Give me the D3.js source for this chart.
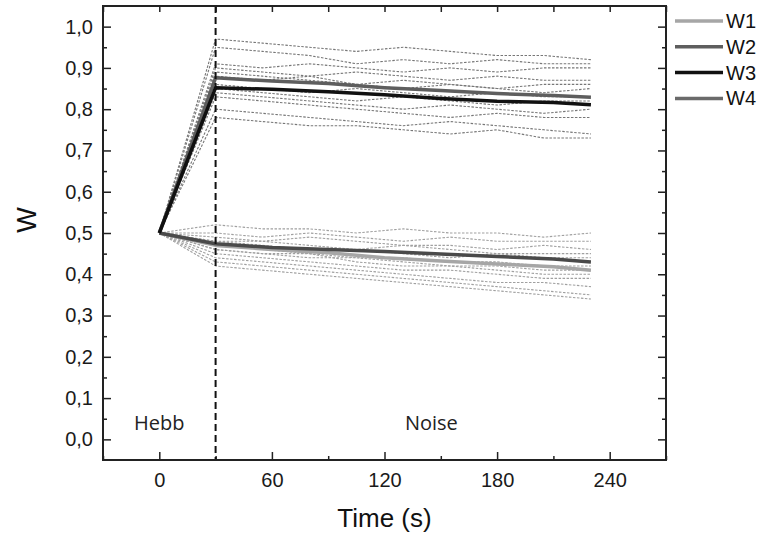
<!DOCTYPE html>
<html>
<head>
<meta charset="utf-8">
<script src="https://cdn.jsdelivr.net/npm/d3@7"></script>
<style>
  body { margin: 0; background: #fff; }
  svg { display: block; }
  .tick text { font-family: "Liberation Sans", Arial, sans-serif; font-size: 20px; fill: #1a1a1a; }
  .tick line { stroke: #222; stroke-width: 1.5; }
  .domain { display: none; }
</style>
</head>
<body>
<svg width="761" height="537"></svg>
<script>
const svg = d3.select("svg");

const width = 761;
const height = 537;

const margin = { top: 6, right: 95, bottom: 77, left: 103 };

// mean curves
const meanTimes = [0, 30, 60, 90, 120, 150, 180, 210, 230];
const w1 = [0.5, 0.470, 0.460, 0.452, 0.440, 0.432, 0.425, 0.418, 0.410];
const w2 = [0.5, 0.876, 0.868, 0.862, 0.852, 0.845, 0.838, 0.833, 0.829];
const w3 = [0.5, 0.852, 0.848, 0.842, 0.835, 0.826, 0.819, 0.816, 0.811];
const w4 = [0.5, 0.474, 0.465, 0.460, 0.455, 0.449, 0.443, 0.437, 0.430];

// single trials (dashed)
const trialTimes = [0, 30, 55, 80, 105, 130, 155, 180, 205, 230];
const trialsHigh = [
    [0.5, 0.97, 0.96, 0.95, 0.94, 0.95, 0.94, 0.93, 0.93, 0.92],
    [0.5, 0.95, 0.94, 0.93, 0.91, 0.92, 0.91, 0.92, 0.91, 0.91],
    [0.5, 0.91, 0.90, 0.91, 0.90, 0.89, 0.90, 0.89, 0.90, 0.90],
    [0.5, 0.90, 0.89, 0.88, 0.89, 0.88, 0.87, 0.88, 0.87, 0.87],
    [0.5, 0.89, 0.88, 0.87, 0.86, 0.87, 0.86, 0.85, 0.86, 0.86],
    [0.5, 0.88, 0.87, 0.88, 0.86, 0.85, 0.86, 0.85, 0.84, 0.85],
    [0.5, 0.86, 0.85, 0.84, 0.85, 0.84, 0.83, 0.84, 0.83, 0.83],
    [0.5, 0.85, 0.84, 0.83, 0.82, 0.83, 0.82, 0.81, 0.82, 0.82],
    [0.5, 0.84, 0.83, 0.82, 0.81, 0.80, 0.81, 0.80, 0.79, 0.80],
    [0.5, 0.83, 0.82, 0.81, 0.80, 0.79, 0.78, 0.79, 0.78, 0.78],
    [0.5, 0.80, 0.79, 0.78, 0.77, 0.76, 0.77, 0.76, 0.75, 0.74],
    [0.5, 0.78, 0.77, 0.76, 0.76, 0.75, 0.74, 0.75, 0.73, 0.73]
];
const trialsLow = [
    [0.5, 0.52, 0.51, 0.51, 0.50, 0.51, 0.50, 0.50, 0.49, 0.50],
    [0.5, 0.50, 0.49, 0.50, 0.49, 0.48, 0.49, 0.48, 0.48, 0.48],
    [0.5, 0.49, 0.48, 0.49, 0.48, 0.47, 0.47, 0.46, 0.47, 0.46],
    [0.5, 0.48, 0.48, 0.47, 0.46, 0.47, 0.46, 0.45, 0.45, 0.45],
    [0.5, 0.48, 0.47, 0.46, 0.46, 0.45, 0.44, 0.45, 0.44, 0.44],
    [0.5, 0.47, 0.46, 0.45, 0.44, 0.44, 0.43, 0.43, 0.42, 0.42],
    [0.5, 0.46, 0.45, 0.44, 0.44, 0.43, 0.42, 0.42, 0.41, 0.41],
    [0.5, 0.46, 0.45, 0.45, 0.43, 0.42, 0.42, 0.41, 0.40, 0.40],
    [0.5, 0.45, 0.44, 0.43, 0.42, 0.41, 0.41, 0.40, 0.39, 0.39],
    [0.5, 0.44, 0.43, 0.42, 0.41, 0.40, 0.39, 0.38, 0.38, 0.37],
    [0.5, 0.43, 0.42, 0.41, 0.40, 0.39, 0.38, 0.37, 0.36, 0.35],
    [0.5, 0.42, 0.41, 0.40, 0.39, 0.38, 0.37, 0.36, 0.35, 0.34]
];

const xTicks = [0, 60, 120, 180, 240];
const xMinor = [-30, 30, 90, 150, 210, 270];
const yTicks = [0, 0.1, 0.2, 0.3, 0.4, 0.5, 0.6, 0.7, 0.8, 0.9, 1.0];
const yMinor = [0.05, 0.15, 0.25, 0.35, 0.45, 0.55, 0.65, 0.75, 0.85, 0.95];

const seriesNames = ["W1", "W2", "W3", "W4"];
const seriesColors = ["#a6a6a6", "#5e5e5e", "#111111", "#6a6a6a"];

const xScale = d3.scaleLinear()
    .domain([-30, 270])
    .range([margin.left, width - margin.right]);

const yScale = d3.scaleLinear()
    .domain([-0.05, 1.05])
    .range([height - margin.bottom, margin.top]);

const x0 = margin.left, x1 = width - margin.right;
const y0 = margin.top, y1 = height - margin.bottom;

const comma = v => d3.format(".1f")(v).replace(".", ",");

// axes, ticks pointing inward on all sides
svg.append("g")
    .attr("transform", `translate(0, ${y1})`)
    .call(d3.axisBottom(xScale).tickValues(xTicks).tickSize(-8).tickPadding(13));
svg.append("g")
    .attr("transform", `translate(0, ${y1})`)
    .call(d3.axisBottom(xScale).tickValues(xMinor).tickSize(-4).tickFormat(""));
svg.append("g")
    .attr("transform", `translate(0, ${y0})`)
    .call(d3.axisTop(xScale).tickValues(xTicks.concat(xMinor)).tickSize(-6).tickFormat(""));

svg.append("g")
    .attr("transform", `translate(${x0}, 0)`)
    .call(d3.axisLeft(yScale).tickValues(yTicks).tickSize(-8).tickPadding(10).tickFormat(comma));
svg.append("g")
    .attr("transform", `translate(${x0}, 0)`)
    .call(d3.axisLeft(yScale).tickValues(yMinor).tickSize(-4).tickFormat(""));
svg.append("g")
    .attr("transform", `translate(${x1}, 0)`)
    .call(d3.axisRight(yScale).tickValues(yTicks).tickSize(-8).tickFormat(""));
svg.append("g")
    .attr("transform", `translate(${x1}, 0)`)
    .call(d3.axisRight(yScale).tickValues(yMinor).tickSize(-4).tickFormat(""));

// trials
const trialLine = d3.line()
    .x((d, i) => xScale(trialTimes[i]))
    .y(d => yScale(d));

svg.append("g")
    .selectAll("path")
    .data(trialsLow)
    .join("path")
    .attr("d", trialLine)
    .attr("fill", "none")
    .attr("stroke", "#a0a0a0")
    .attr("stroke-width", 1.1)
    .attr("stroke-dasharray", "2.5,1.5");

svg.append("g")
    .selectAll("path")
    .data(trialsHigh)
    .join("path")
    .attr("d", trialLine)
    .attr("fill", "none")
    .attr("stroke", "#777")
    .attr("stroke-width", 1.1)
    .attr("stroke-dasharray", "2.5,1.5");

// mean lines
const meanLine = d3.line()
    .x((d, i) => xScale(meanTimes[i]))
    .y(d => yScale(d));

const means = [
    { name: "W1", values: w1, color: seriesColors[0] },
    { name: "W4", values: w4, color: "#4a4a4a" },
    { name: "W2", values: w2, color: seriesColors[1] },
    { name: "W3", values: w3, color: seriesColors[2] }
];

svg.append("g")
    .selectAll("path")
    .data(means)
    .join("path")
    .attr("d", d => meanLine(d.values))
    .attr("fill", "none")
    .attr("stroke", d => d.color)
    .attr("stroke-width", 3.5)
    .attr("stroke-linejoin", "round");

// Hebb / Noise boundary
svg.append("line")
    .attr("x1", xScale(30))
    .attr("x2", xScale(30))
    .attr("y1", y0)
    .attr("y2", y1)
    .attr("stroke", "#111")
    .attr("stroke-width", 2)
    .attr("stroke-dasharray", "7,4");

// frame
svg.append("rect")
    .attr("x", x0)
    .attr("y", y0)
    .attr("width", x1 - x0)
    .attr("height", y1 - y0)
    .attr("fill", "none")
    .attr("stroke", "#222")
    .attr("stroke-width", 2);

svg.append("text")
    .attr("x", xScale(0))
    .attr("y", 430)
    .attr("text-anchor", "middle")
    .style("font-family", "'Open Sans', sans-serif")
    .style("font-size", "20px")
    .attr("fill", "#222")
    .text("Hebb");

svg.append("text")
    .attr("x", xScale(145))
    .attr("y", 430)
    .attr("text-anchor", "middle")
    .style("font-family", "'Open Sans', sans-serif")
    .style("font-size", "20px")
    .attr("fill", "#222")
    .text("Noise");

// axis titles
svg.append("text")
    .attr("x", (x0 + x1) / 2)
    .attr("y", 527)
    .attr("text-anchor", "middle")
    .style("font-family", "'Liberation Sans', Arial, sans-serif")
    .style("font-size", "26px")
    .attr("fill", "#111")
    .text("Time (s)");

svg.append("text")
    .attr("transform", "rotate(-90)")
    .attr("x", -220)
    .attr("y", 36)
    .attr("text-anchor", "middle")
    .style("font-family", "'Liberation Sans', Arial, sans-serif")
    .style("font-size", "27px")
    .attr("fill", "#111")
    .text("W");

// legend
const legend = svg.append("g")
    .selectAll("g")
    .data(seriesNames)
    .join("g")
    .attr("transform", (d, i) => `translate(675, ${21 + i * 25.8})`);

legend.append("line")
    .attr("x1", 0)
    .attr("x2", 48)
    .attr("stroke", (d, i) => seriesColors[i])
    .attr("stroke-width", 3.5);

legend.append("text")
    .attr("x", 51)
    .attr("y", 7)
    .style("font-family", "'Liberation Sans', Arial, sans-serif")
    .style("font-size", "20px")
    .attr("fill", "#111")
    .text(d => d);
</script>
</body>
</html>
